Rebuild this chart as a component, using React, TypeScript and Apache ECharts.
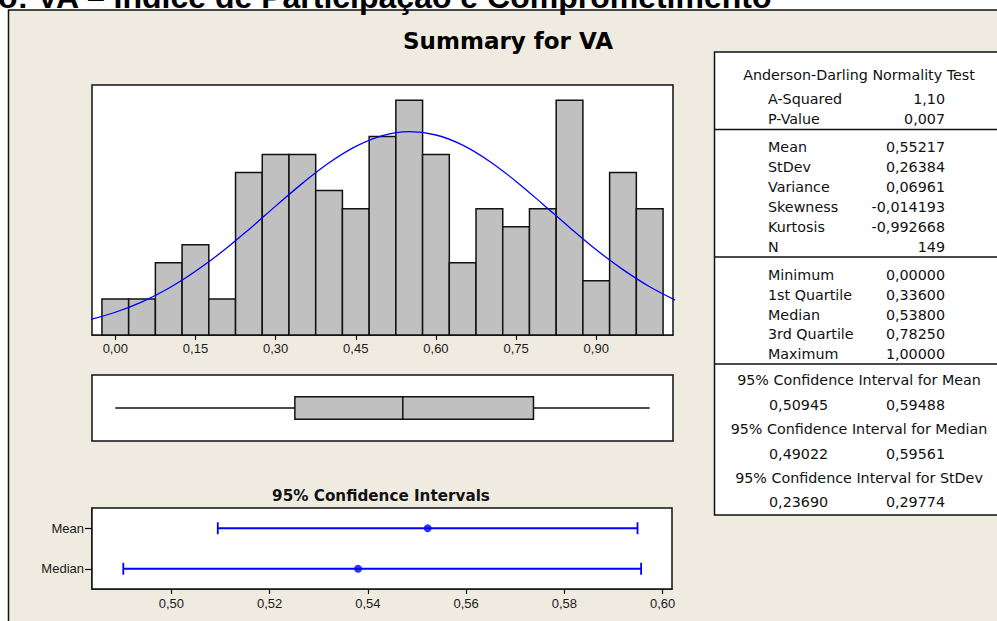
import React, { useEffect, useRef } from "react";
import * as echarts from "echarts";

// ---------- data ----------
const binWidth = 0.05;
const binCenters = [0, 0.05, 0.1, 0.15, 0.2, 0.25, 0.3, 0.35, 0.4, 0.45, 0.5, 0.55, 0.6, 0.65, 0.7, 0.75, 0.8, 0.85, 0.9, 0.95, 1.0];
const binCounts = [2, 2, 4, 5, 2, 9, 10, 10, 8, 7, 11, 13, 10, 4, 7, 6, 7, 13, 3, 9, 7];

// fitted normal curve
const curveX = [-0.05, 0, 0.05, 0.1, 0.15, 0.2, 0.25, 0.3, 0.35, 0.4, 0.45, 0.5, 0.55, 0.6, 0.65, 0.7, 0.75, 0.8, 0.85, 0.9, 0.95, 1.0, 1.05];
const curveY = [0.83, 1.26, 1.84, 2.59, 3.53, 4.62, 5.85, 7.14, 8.4, 9.54, 10.45, 11.05, 11.27, 11.08, 10.52, 9.63, 8.51, 7.25, 5.96, 4.72, 3.62, 2.67, 1.9];

const histTicks = [0, 0.15, 0.3, 0.45, 0.6, 0.75, 0.9];
const boxStats = [0.0, 0.336, 0.538, 0.7825, 1.0];

const ciCategories = ["Mean", "Median"];
const ciLow = [0.50945, 0.49022];
const ciHigh = [0.59488, 0.59561];
const ciEstimate = [0.55217, 0.538];
const ciTicks = [0.5, 0.52, 0.54, 0.56, 0.58, 0.6];

const adTitle = "Anderson-Darling Normality Test";
const adRows = [["A-Squared", "1,10"], ["P-Value", "0,007"]];
const descRows = [["Mean", "0,55217"], ["StDev", "0,26384"], ["Variance", "0,06961"], ["Skewness", "-0,014193"], ["Kurtosis", "-0,992668"], ["N", "149"]];
const quartRows = [["Minimum", "0,00000"], ["1st Quartile", "0,33600"], ["Median", "0,53800"], ["3rd Quartile", "0,78250"], ["Maximum", "1,00000"]];
const ciTableRows = [
  ["95% Confidence Interval for Mean", "0,50945", "0,59488"],
  ["95% Confidence Interval for Median", "0,49022", "0,59561"],
  ["95% Confidence Interval for StDev", "0,23690", "0,29774"],
];

const pageTitle = "o: VA – Índice de Participação e Comprometimento";
const mainTitle = "Summary for VA";
const ciTitle = "95% Confidence Intervals";

// ---------- layout / style ----------
const X_MIN = -0.0436;
const X_MAX = 1.0436;
const LINE = "#111";
const BLUE = "#0000FF";
const GRAY = "#C0C0C0";
const AXIS_FONT = "'Liberation Sans', Arial, sans-serif";
const TABLE_FONT = "'DejaVu Sans', Verdana, sans-serif";

const fmt2 = (v: number) => v.toFixed(2).replace(".", ",");

function tableGraphics(): any[] {
  const els: any[] = [];
  const labelX = 768;
  const valueX = 945;
  const txt = (text: string, x: number, y: number, align: string) => ({
    type: "text",
    x,
    y,
    z: 20,
    style: { text, fill: LINE, fontSize: 14.3, fontFamily: TABLE_FONT, textAlign: align, textVerticalAlign: "middle" },
  });
  els.push({ type: "rect", z: -5, shape: { x: 714.5, y: 52, width: 320, height: 463 }, style: { fill: "#fff", stroke: LINE, lineWidth: 1.5 } });
  [129.5, 257, 364].forEach((y) =>
    els.push({ type: "line", z: -4, shape: { x1: 714.5, y1: y, x2: 1000, y2: y }, style: { stroke: LINE, lineWidth: 1.5 } })
  );
  els.push(txt(adTitle, 859, 75, "center"));
  adRows.forEach((r, i) => {
    els.push(txt(r[0], labelX, 99 + i * 20, "left"));
    els.push(txt(r[1], valueX, 99 + i * 20, "right"));
  });
  descRows.forEach((r, i) => {
    els.push(txt(r[0], labelX, 146.7 + i * 20, "left"));
    els.push(txt(r[1], valueX, 146.7 + i * 20, "right"));
  });
  quartRows.forEach((r, i) => {
    els.push(txt(r[0], labelX, 275 + i * 19.8, "left"));
    els.push(txt(r[1], valueX, 275 + i * 19.8, "right"));
  });
  ciTableRows.forEach((r, i) => {
    els.push(txt(r[0], 859, 380 + i * 49, "center"));
    els.push(txt(r[1], labelX + 1, 405 + i * 48.5, "left"));
    els.push(txt(r[2], valueX, 405 + i * 48.5, "right"));
  });
  return els;
}

export default function App() {
  const ref = useRef<HTMLDivElement | null>(null);

  useEffect(() => {
    document.body.style.margin = "0";
    if (!ref.current) return;
    const chart = echarts.init(ref.current, null, { renderer: "svg" });

    const gridStyle = { show: true, backgroundColor: "#fff", borderColor: LINE, borderWidth: 1.5, z: 1 };

    const option: any = {
      animation: false,
      backgroundColor: "#fff",
      grid: [
        { ...gridStyle, left: 92, top: 85, width: 581, height: 250 },
        { ...gridStyle, left: 92, top: 375, width: 581, height: 66 },
        { ...gridStyle, left: 92, top: 508, width: 580, height: 81 },
      ],
      xAxis: [
        {
          gridIndex: 0,
          type: "value",
          min: X_MIN,
          max: X_MAX,
          axisLine: { show: true, lineStyle: { color: LINE, width: 1.5 } },
          axisTick: { show: true, customValues: histTicks, length: 5, lineStyle: { color: LINE, width: 1.2 } },
          axisLabel: { customValues: histTicks, formatter: (v: number) => fmt2(v), fontSize: 13, color: "#1a1a1a", margin: 7, fontFamily: AXIS_FONT },
          splitLine: { show: false },
        },
        { gridIndex: 1, type: "value", min: X_MIN, max: X_MAX, show: false, splitLine: { show: false } },
        {
          gridIndex: 2,
          type: "value",
          min: 0.48385,
          max: 0.6019,
          axisLine: { show: true, lineStyle: { color: LINE, width: 1.5 } },
          axisTick: { show: true, customValues: ciTicks, length: 5, lineStyle: { color: LINE, width: 1.2 } },
          axisLabel: { customValues: ciTicks, formatter: (v: number) => fmt2(v), fontSize: 13, color: "#1a1a1a", margin: 8, fontFamily: AXIS_FONT },
          splitLine: { show: false },
        },
      ],
      yAxis: [
        { gridIndex: 0, type: "value", min: 0, max: 13.85, show: false, splitLine: { show: false } },
        { gridIndex: 1, type: "value", min: 0, max: 1, show: false, splitLine: { show: false } },
        {
          gridIndex: 2,
          type: "category",
          data: ciCategories,
          inverse: true,
          axisLine: { show: true, lineStyle: { color: LINE, width: 1.5 } },
          axisTick: { show: true, alignWithLabel: true, length: 7, lineStyle: { color: LINE, width: 1.2 } },
          axisLabel: { fontSize: 13, color: "#1a1a1a", margin: 8, fontFamily: AXIS_FONT },
          splitLine: { show: false },
        },
      ],
      series: [
        {
          type: "custom",
          xAxisIndex: 0,
          yAxisIndex: 0,
          z: 3,
          data: binCenters.map((c, i) => [c, binCounts[i]]),
          renderItem: (params: any, api: any) => {
            const c = api.value(0);
            const n = api.value(1);
            const p0 = api.coord([c - binWidth / 2, n]);
            const p1 = api.coord([c + binWidth / 2, 0]);
            return {
              type: "rect",
              shape: { x: p0[0], y: p0[1], width: p1[0] - p0[0], height: p1[1] - p0[1] },
              style: { fill: GRAY, stroke: LINE, lineWidth: 1.5 },
            };
          },
        },
        {
          type: "line",
          xAxisIndex: 0,
          yAxisIndex: 0,
          z: 5,
          data: curveX.map((x, i) => [x, curveY[i]]),
          smooth: 0.35,
          showSymbol: false,
          clip: true,
          lineStyle: { color: BLUE, width: 1.3 },
        },
        {
          type: "custom",
          xAxisIndex: 1,
          yAxisIndex: 1,
          z: 3,
          data: [boxStats],
          encode: { x: [0, 1, 2, 3, 4], y: [] },
          renderItem: (params: any, api: any) => {
            const mn = api.value(0), q1 = api.value(1), md = api.value(2), q3 = api.value(3), mx = api.value(4);
            const yc = api.coord([mn, 0.5])[1];
            const yt = api.coord([mn, 0.67])[1];
            const yb = api.coord([mn, 0.33])[1];
            const xmn = api.coord([mn, 0.5])[0];
            const xq1 = api.coord([q1, 0.5])[0];
            const xmd = api.coord([md, 0.5])[0];
            const xq3 = api.coord([q3, 0.5])[0];
            const xmx = api.coord([mx, 0.5])[0];
            const st = { stroke: LINE, lineWidth: 1.5 };
            return {
              type: "group",
              children: [
                { type: "line", shape: { x1: xmn, y1: yc, x2: xq1, y2: yc }, style: st },
                { type: "line", shape: { x1: xq3, y1: yc, x2: xmx, y2: yc }, style: st },
                { type: "rect", shape: { x: xq1, y: yt, width: xq3 - xq1, height: yb - yt }, style: { fill: GRAY, ...st } },
                { type: "line", shape: { x1: xmd, y1: yt, x2: xmd, y2: yb }, style: st },
              ],
            };
          },
        },
        {
          type: "custom",
          xAxisIndex: 2,
          yAxisIndex: 2,
          z: 3,
          data: ciCategories.map((c, i) => [ciLow[i], i, ciHigh[i]]),
          encode: { x: [0, 2], y: 1 },
          renderItem: (params: any, api: any) => {
            const lo = api.value(0), idx = api.value(1), hi = api.value(2);
            const p1 = api.coord([lo, idx]);
            const p2 = api.coord([hi, idx]);
            const st = { stroke: BLUE, lineWidth: 1.8 };
            const cap = 6;
            return {
              type: "group",
              children: [
                { type: "line", shape: { x1: p1[0], y1: p1[1], x2: p2[0], y2: p2[1] }, style: st },
                { type: "line", shape: { x1: p1[0], y1: p1[1] - cap, x2: p1[0], y2: p1[1] + cap }, style: st },
                { type: "line", shape: { x1: p2[0], y1: p2[1] - cap, x2: p2[0], y2: p2[1] + cap }, style: st },
              ],
            };
          },
        },
        {
          type: "scatter",
          xAxisIndex: 2,
          yAxisIndex: 2,
          z: 6,
          data: ciEstimate.map((v, i) => [v, i]),
          symbol: "circle",
          symbolSize: 8,
          itemStyle: { color: BLUE },
        },
      ],
      graphic: [
        { type: "rect", z: -10, shape: { x: 8.5, y: 10, width: 1010, height: 640 }, style: { fill: "#EFEBE1", stroke: LINE, lineWidth: 1.5 } },
        ...tableGraphics(),
        {
          type: "text",
          x: -2,
          y: -3,
          z: 20,
          style: { text: pageTitle, fill: "#000", fontSize: 32, fontWeight: "bold", fontFamily: AXIS_FONT, textAlign: "left", textVerticalAlign: "middle" },
        },
        {
          type: "text",
          x: 508,
          y: 41,
          z: 20,
          style: { text: mainTitle, fill: "#000", fontSize: 23, fontWeight: "bold", fontFamily: TABLE_FONT, textAlign: "center", textVerticalAlign: "middle" },
        },
        {
          type: "text",
          x: 381,
          y: 496,
          z: 20,
          style: { text: ciTitle, fill: "#111", fontSize: 15.2, fontWeight: "bold", fontFamily: TABLE_FONT, textAlign: "center", textVerticalAlign: "middle" },
        },
      ],
    };

    chart.setOption(option);
    return () => chart.dispose();
  }, []);

  return <div ref={ref} style={{ width: 997, height: 621 }} />;
}
